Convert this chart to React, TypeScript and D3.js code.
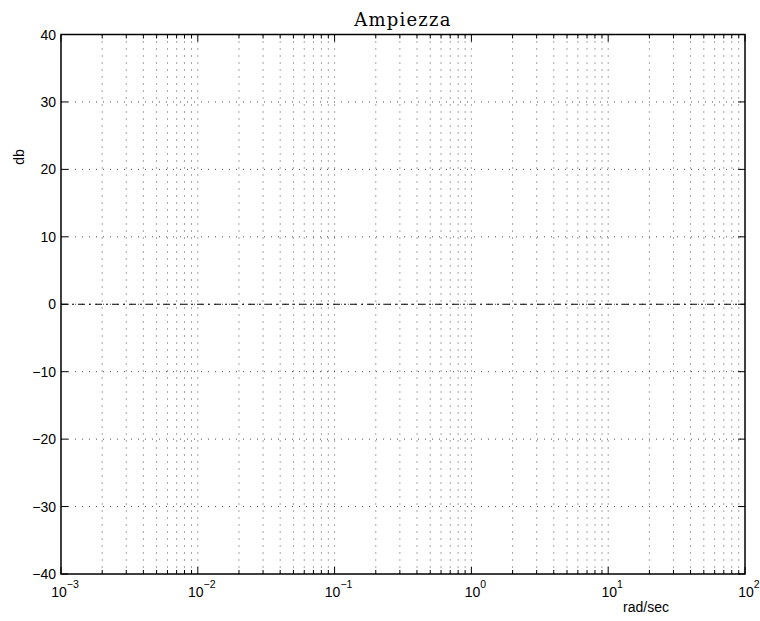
import React from "react";
import * as d3 from "d3";

const title = "Ampiezza";
const yLabel = "db";
const xLabel = "rad/sec";
const yTicks = [-40, -30, -20, -10, 0, 10, 20, 30, 40];
const xDecadeExponents = [-3, -2, -1, 0, 1, 2];
const freq = [0.001, 100];
const magnitude = [0, 0];

const W = 760, H = 621;
const L = 61, R = 745, T = 34.5, B = 574;

export default function App() {
  const x = d3.scaleLog().domain([1e-3, 1e2]).range([L, R]);
  const y = d3.scaleLinear().domain([-40, 40]).range([B, T]);
  const minors: number[] = [];
  for (let e = -3; e < 2; e++) for (let m = 2; m <= 9; m++) minors.push(m * Math.pow(10, e));
  const majors = xDecadeExponents.map((e) => Math.pow(10, e));
  const line = d3.line<number>().x((_, i) => x(freq[i])).y((d) => y(d));
  const font = "'Liberation Sans', Arial, sans-serif";
  return (
    <svg width={W} height={H} style={{ position: "absolute", left: 0, top: 0, background: "#fff" }}>
      {/* grid */}
      {[...minors, ...majors.slice(1, -1)].map((v, i) => (
        <line key={"vg" + i} x1={x(v)} x2={x(v)} y1={T} y2={B} stroke="#000" strokeOpacity={0.7} strokeWidth={1} strokeDasharray="1,6" />
      ))}
      {yTicks.slice(1, -1).map((v, i) => (
        <line key={"hg" + i} x1={L} x2={R} y1={y(v)} y2={y(v)} stroke="#000" strokeOpacity={0.7} strokeWidth={1} strokeDasharray="1,6" />
      ))}
      {/* data */}
      <path d={line(magnitude) || ""} fill="none" stroke="#000" strokeWidth={1} strokeDasharray="7,4,2,4" />
      {/* ticks */}
      {majors.map((v, i) => (
        <g key={"xm" + i}>
          <line x1={x(v)} x2={x(v)} y1={B} y2={B - 7} stroke="#000" />
          <line x1={x(v)} x2={x(v)} y1={T} y2={T + 7} stroke="#000" />
        </g>
      ))}
      {minors.map((v, i) => (
        <g key={"xn" + i}>
          <line x1={x(v)} x2={x(v)} y1={B} y2={B - 4} stroke="#000" />
          <line x1={x(v)} x2={x(v)} y1={T} y2={T + 4} stroke="#000" />
        </g>
      ))}
      {yTicks.map((v, i) => (
        <g key={"yt" + i}>
          <line x1={L} x2={L + 7} y1={y(v)} y2={y(v)} stroke="#000" />
          <line x1={R} x2={R - 7} y1={y(v)} y2={y(v)} stroke="#000" />
          <text x={56} y={y(v)} dy="0.36em" textAnchor="end" fontFamily={font} fontSize={14}>
            {v < 0 ? "\u2212" + Math.abs(v) : v}
          </text>
        </g>
      ))}
      {xDecadeExponents.map((e, i) => (
        <text key={"xl" + i} x={x(Math.pow(10, e)) + 4} y={597} textAnchor="middle" fontFamily={font} fontSize={14}>
          10
          <tspan dy={-9} fontSize={10.5}>{e < 0 ? "\u2212" + Math.abs(e) : e}</tspan>
        </text>
      ))}
      {/* box */}
      <rect x={L} y={T} width={R - L} height={B - T} fill="none" stroke="#000" strokeWidth={1.5} />
      {/* labels */}
      <text x={403} y={26} textAnchor="middle" fontFamily="'DejaVu Serif', serif" fontSize={18} letterSpacing={1.2}>
        {title}
      </text>
      <text x={646} y={612} textAnchor="middle" fontFamily={font} fontSize={14}>{xLabel}</text>
      <text transform="translate(24,157) rotate(-90)" textAnchor="middle" fontFamily={font} fontSize={14}>{yLabel}</text>
    </svg>
  );
}
